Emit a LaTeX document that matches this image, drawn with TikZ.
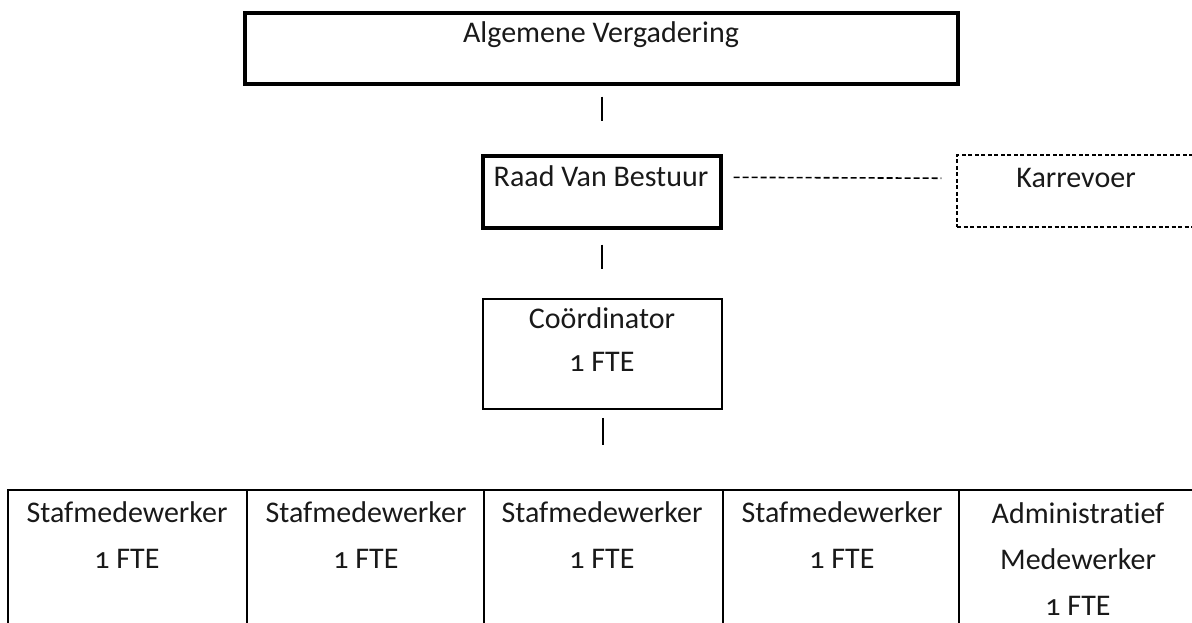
\documentclass[tikz,border=0pt]{standalone}
\usepackage{fontspec}
\setmainfont{Carlito}[Numbers=OldStyle,Ligatures=NoCommon]
\usetikzlibrary{calc}
\begin{document}
\begin{tikzpicture}[x=1pt,y=-1pt,
  thickbox/.style={draw, line width=3.4pt, inner sep=0pt},
  thinbox/.style={draw, line width=1.8pt, inner sep=0pt},
  dashbox/.style={draw, line width=1.4pt, dash pattern=on 4pt off 2.5pt, inner sep=0pt},
  cellbox/.style={draw, line width=2.2pt, inner sep=0pt, anchor=north west, minimum height=170pt},
  lbl/.style={font=\fontsize{30}{46}\selectfont, inner sep=0pt, align=center, anchor=base, text=black!90},
  lblco/.style={lbl, font=\fontsize{30}{43}\selectfont},
  bar/.style={line width=2pt},
  link/.style={line width=1.6pt, dash pattern=on 6pt off 3pt}]
\useasboundingbox (0,0) rectangle (1192,623);
% boxes
\node[thickbox, minimum width=713pt, minimum height=71pt] (av) at (601.5,48.5) {};
\node[thickbox, minimum width=238pt, minimum height=72pt] (rvb) at (602,192) {};
\node[dashbox, minimum width=238pt, minimum height=72pt] (kv) at (1076,191) {};
\node[thinbox, minimum width=239pt, minimum height=110pt] (co) at (602.5,354) {};
\node[cellbox, minimum width=239pt] (c1) at (7,489) {};
\node[cellbox, minimum width=237pt] (c2) at (246,489) {};
\node[cellbox, minimum width=239pt] (c3) at (483,489) {};
\node[cellbox, minimum width=236pt] (c4) at (722,489) {};
\node[cellbox, minimum width=240pt] (c5) at (958,489) {};
% texts (base anchor = baseline of the last line)
\node[lbl] (avt) at (601,43) {Algemene Vergadering};
\node[lbl] (rvbt) at (601,186) {Raad Van Bestuur};
\node[lbl] (kvt) at (1076,187) {Karrevoer};
\node[lblco] (cot) at (602,371) {Coördinator\\1 FTE};
\node[lbl] (t1) at (127,568) {Stafmedewerker\\1 FTE};
\node[lbl] (t2) at (366,568) {Stafmedewerker\\1 FTE};
\node[lbl] (t3) at (602,568) {Stafmedewerker\\1 FTE};
\node[lbl] (t4) at (842,568) {Stafmedewerker\\1 FTE};
\node[lbl] (t5) at (1078,615) {Administratief\\Medewerker\\1 FTE};
% connectors
\draw[bar, shorten <=11pt, shorten >=33pt] (av.south) -- (av.south |- rvb.north);
\draw[bar, shorten <=15pt, shorten >=29pt] (rvb.south) -- (rvb.south |- co.north);
\draw[bar, shorten <=8pt, shorten >=44pt] (co.south) -- (co.south |- c3.north);
\draw[link, shorten <=11pt, shorten >=15pt] ($(rvb.north east)+(0,23)$) -- ($(kv.north west)+(0,24)$);
\end{tikzpicture}
\end{document}
